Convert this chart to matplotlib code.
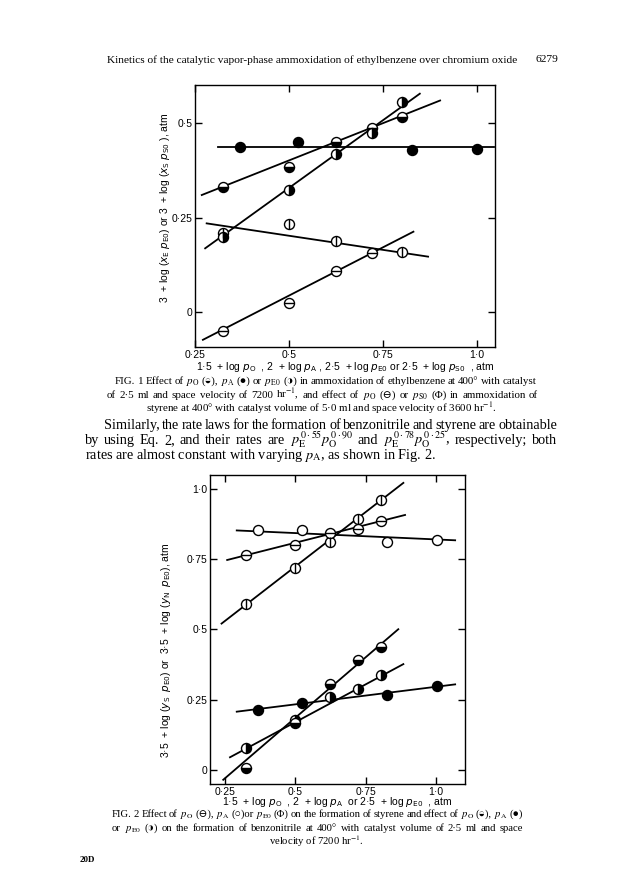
import matplotlib
matplotlib.use("Agg")
import matplotlib.pyplot as plt

plt.rcParams['font.family'] = ['Liberation Sans', 'DejaVu Sans']
plt.rcParams['axes.linewidth'] = 1.0

# ---- Fig. 1 data (ethylbenzene and styrene ammoxidation) ----
f1_eb_po_x = [0.325, 0.50, 0.625, 0.72, 0.80]
f1_eb_po_y = [0.331, 0.384, 0.451, 0.487, 0.517]
f1_eb_pa_x = [0.37, 0.523, 0.826, 1.0]
f1_eb_pa_y = [0.438, 0.449, 0.428, 0.432]
f1_eb_pe_x = [0.325, 0.50, 0.625, 0.72, 0.80]
f1_eb_pe_y = [0.200, 0.324, 0.419, 0.475, 0.555]
f1_st_po_x = [0.325, 0.50, 0.625, 0.72]
f1_st_po_y = [-0.051, 0.025, 0.109, 0.156]
f1_st_ps_x = [0.325, 0.50, 0.625, 0.80]
f1_st_ps_y = [0.209, 0.234, 0.189, 0.160]

# fitted lines (x0, x1, y0, y1)
f1_line_eb_po = [0.268, 0.902, 0.310, 0.560]
f1_line_eb_pa = [0.311, 1.045, 0.438, 0.438]
f1_line_eb_pe = [0.277, 0.848, 0.169, 0.578]
f1_line_st_po = [0.271, 0.831, -0.073, 0.213]
f1_line_st_ps = [0.281, 0.870, 0.235, 0.147]

# ---- Fig. 2 data (styrene and benzonitrile formation) ----
f2_x5 = [0.325, 0.50, 0.623, 0.724, 0.803]
f2_pa_x = [0.368, 0.523, 0.825, 1.003]
f2_st_po_y = [0.762, 0.801, 0.841, 0.855, 0.884]
f2_st_pa_y = [0.851, 0.851, 0.810, 0.816]
f2_st_pe_y = [0.588, 0.717, 0.811, 0.892, 0.959]
f2_bn_po_y = [0.006, 0.168, 0.304, 0.390, 0.437]
f2_bn_pa_y = [0.213, 0.239, 0.266, 0.299]
f2_bn_pe_y = [0.077, 0.177, 0.258, 0.286, 0.337]

f2_line_st_po = [0.258, 0.890, 0.746, 0.906]
f2_line_st_pa = [0.292, 1.068, 0.851, 0.816]
f2_line_st_pe = [0.238, 0.884, 0.520, 1.020]
f2_line_bn_po = [0.244, 0.866, -0.035, 0.500]
f2_line_bn_pa = [0.292, 1.068, 0.207, 0.304]
f2_line_bn_pe = [0.268, 0.884, 0.045, 0.376]

xticks = [0.25, 0.5, 0.75, 1.0]
xticklabels = ['0·25', '0·5', '0·75', '1·0']
f1_yticks = [0, 0.25, 0.5]
f1_yticklabels = ['0', '0·25', '0·5']
f2_yticks = [0, 0.25, 0.5, 0.75, 1.0]
f2_yticklabels = ['0', '0·25', '0·5', '0·75', '1·0']

MS = 7.2
W, H = 624, 892


def fit_line(ax, seg):
    ax.plot(seg[:2], seg[2:], color='black', lw=1.3, zorder=2)


def symbols(ax, x, y, kind):
    common = dict(linestyle='none', marker='o', markersize=MS,
                  markeredgecolor='black', markeredgewidth=1.0, zorder=3)
    if kind == 'filled':
        ax.plot(x, y, markerfacecolor='black', **common)
    elif kind == 'open':
        ax.plot(x, y, markerfacecolor='white', **common)
    elif kind in ('hbar', 'vbar'):
        ax.plot(x, y, markerfacecolor='white', **common)
        ax.plot(x, y, linestyle='none', marker='_' if kind == 'hbar' else '|',
                markersize=MS, markeredgewidth=1.0, color='black', zorder=4)
    elif kind == 'half_bottom':
        ax.plot(x, y, fillstyle='bottom', markerfacecolor='black',
                markerfacecoloralt='white', **common)
    elif kind == 'half_right':
        ax.plot(x, y, fillstyle='right', markerfacecolor='black',
                markerfacecoloralt='white', **common)


def style_axes(ax, yticks, yticklabels):
    ax.set_xticks(xticks)
    ax.set_xticklabels(xticklabels)
    ax.set_yticks(yticks)
    ax.set_yticklabels(yticklabels)
    ax.tick_params(direction='in', length=5, width=1.0, top=True, right=True,
                   labelsize=7.5, pad=2)


fig = plt.figure(figsize=(W / 100, H / 100), dpi=100)

# ---------------- Fig. 1 ----------------
ax1 = fig.add_axes([195 / W, 1 - 347 / H, 300 / W, 262 / H])
for seg in [f1_line_eb_po, f1_line_eb_pa, f1_line_eb_pe, f1_line_st_po, f1_line_st_ps]:
    fit_line(ax1, seg)
symbols(ax1, f1_eb_pa_x, f1_eb_pa_y, 'filled')
symbols(ax1, f1_eb_po_x, f1_eb_po_y, 'half_bottom')
symbols(ax1, f1_st_ps_x, f1_st_ps_y, 'vbar')
symbols(ax1, f1_eb_pe_x, f1_eb_pe_y, 'half_right')
symbols(ax1, f1_st_po_x, f1_st_po_y, 'hbar')
ax1.set_xlim(0.25, 1.048)
ax1.set_ylim(-0.092, 0.601)
style_axes(ax1, f1_yticks, f1_yticklabels)
ax1.set_xlabel(r'1·5  + log $p_{\rm O}$  , 2  + log $p_{\rm A}$ , 2·5  + log $p_{\rm E0}$ or 2·5  + log $p_{\rm S0}$  , atm',
               fontsize=7.5, labelpad=0, math_fontfamily='dejavusans')
fig.text(165 / W, 1 - 208 / H,
         r'3  + log ($x_{\rm E}$ $p_{\rm E0}$) or 3  + log ($x_{\rm S}$ $p_{\rm S0}$ ), atm',
         rotation=90, ha='center', va='center', fontsize=7.5, math_fontfamily='dejavusans')

# ---------------- Fig. 2 ----------------
ax2 = fig.add_axes([210 / W, 1 - 784 / H, 255 / W, 309 / H])
for seg in [f2_line_st_po, f2_line_st_pa, f2_line_st_pe,
            f2_line_bn_po, f2_line_bn_pa, f2_line_bn_pe]:
    fit_line(ax2, seg)
symbols(ax2, f2_pa_x, f2_st_pa_y, 'open')
symbols(ax2, f2_x5, f2_st_pe_y, 'vbar')
symbols(ax2, f2_x5, f2_st_po_y, 'hbar')
symbols(ax2, f2_pa_x, f2_bn_pa_y, 'filled')
symbols(ax2, f2_x5, f2_bn_pe_y, 'half_right')
symbols(ax2, f2_x5, f2_bn_po_y, 'half_bottom')
ax2.set_xlim(0.197, 1.103)
ax2.set_ylim(-0.05, 1.048)
style_axes(ax2, f2_yticks, f2_yticklabels)
ax2.set_xlabel(r'1·5  + log $p_{\rm O}$  , 2  + log $p_{\rm A}$  or 2·5  + log $p_{\rm E0}$  , atm',
               fontsize=7.5, labelpad=-1, math_fontfamily='dejavusans')
fig.text(166 / W, 1 - 650 / H,
         r'3·5  + log ($y_{\rm S}$  $p_{\rm E0}$) or  3·5  + log ($y_{\rm N}$  $p_{\rm E0}$), atm',
         rotation=90, ha='center', va='center', fontsize=7.5, math_fontfamily='dejavusans')

# ---------------- page text ----------------
serif = ['Liberation Serif', 'DejaVu Serif', 'DejaVu Sans']
renderer = fig.canvas.get_renderer()


def page_text(x, y, s, size, ha='center'):
    # y is the baseline, in pixels from the top
    return fig.text(x / W, 1 - y / H, s, ha=ha, va='baseline', fontsize=size,
                    family=serif, math_fontfamily='stix')


def split_words(line):
    # split on spaces that are not inside $...$
    words, cur, in_math = [], '', False
    for ch in line:
        if ch == '$':
            in_math = not in_math
        if ch == ' ' and not in_math:
            if cur:
                words.append(cur)
            cur = ''
        else:
            cur += ch
    if cur:
        words.append(cur)
    return words


def justify(x0, x1, y, line, size):
    # spread the words of one line evenly between x0 and x1 (pixels)
    words = split_words(line)
    texts = [page_text(0, y, w, size, ha='left') for w in words]
    widths = [t.get_window_extent(renderer).width for t in texts]
    gap = max((x1 - x0 - sum(widths)) / (len(words) - 1), 1.5)
    x = x0
    for t, w in zip(texts, widths):
        t.set_x(x / W)
        x += w + gap


page_text(107, 63, 'Kinetics of the catalytic vapor-phase ammoxidation of ethylbenzene over chromium oxide', 8.2, ha='left')
page_text(535, 62, '6279', 8.2, ha='left')

cap_size = 7.9
justify(115, 537, 384, r'FIG. 1 Effect of $p_{\rm O}$ (◒), $p_{\rm A}$ (●) or $p_{\rm E0}$ (◑) in ammoxidation of ethylbenzene at 400° with catalyst', cap_size)
justify(107, 538, 398, r'of 2·5 ml and space velocity of 7200 hr$^{-1}$, and effect of $p_{\rm O}$ (⊖) or $p_{\rm S0}$ (Φ) in ammoxidation of', cap_size)
page_text(321, 412, r'styrene at 400° with catalyst volume of 5·0 ml and space velocity of 3600 hr$^{-1}$.', cap_size)

para_size = 10.3
justify(104, 557, 429, 'Similarly, the rate laws for the formation of benzonitrile and styrene are obtainable', para_size)
justify(85, 557, 444, r'by using Eq. 2, and their rates are $p_{\rm E}^{\,0\cdot55}p_{\rm O}^{\,0\cdot90}$ and $p_{\rm E}^{\,0\cdot78}p_{\rm O}^{\,0\cdot25}$, respectively; both', para_size)
page_text(85, 459, r'rates are almost constant with varying $p_{\rm A}$, as shown in Fig. 2.', para_size, ha='left')

justify(112, 523, 817, r'FIG. 2 Effect of $p_{\rm O}$ (⊖), $p_{\rm A}$ (○)or $p_{\rm E0}$ (Φ) on the formation of styrene and effect of $p_{\rm O}$ (◒), $p_{\rm A}$ (●)', 7.7)
justify(112, 523, 831, r'or $p_{\rm E0}$ (◑) on the formation of benzonitrile at 400° with catalyst volume of 2·5 ml and space', 7.7)
page_text(316, 845, r'velocity of 7200 hr$^{-1}$.', 7.7)

fig.text(80 / W, 1 - 862 / H, '20D', ha='left', va='baseline', fontsize=6.5,
         family=serif, weight='bold')

fig.savefig('out.png', dpi=100, facecolor='white')
